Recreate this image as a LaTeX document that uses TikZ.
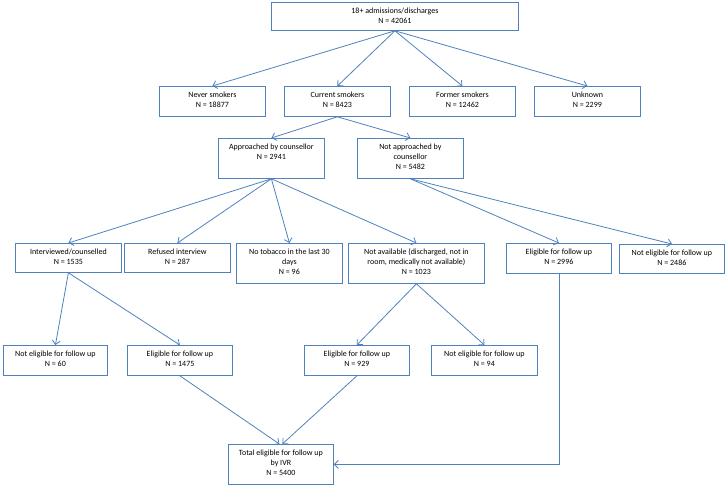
\documentclass[tikz,border=0pt]{standalone}
\usepackage{fontspec}
\setmainfont{Carlito}
\usetikzlibrary{arrows.meta}
\definecolor{lineblue}{RGB}{79,129,189}
\tikzset{
  box/.style={draw=lineblue, line width=0.8pt, rectangle, inner sep=0pt, anchor=north west},
  txt/.style={anchor=north, inner sep=0pt, align=center, text=black, font=\fontsize{8}{10}\selectfont},
  conn/.style={draw=lineblue, line width=0.8pt, -{Straight Barb[length=4pt,width=8pt]}},
}
\newcommand{\flowbox}[6]{%
  \node[box, minimum width=#4, minimum height=#5] (#1) at (#2,#3) {};
  \node[txt] (#1-t) at ([yshift=-5.5pt]#1.north) {#6};
}
\begin{document}
\begin{tikzpicture}[x=1pt,y=-1pt]
\useasboundingbox (0,0) rectangle (727,486);
\flowbox{top}{271}{2}{247}{28}{18+ admissions/discharges\\N = 42061}
\flowbox{never}{159}{86}{106}{30}{Never smokers\\N = 18877}
\flowbox{current}{284}{86}{106}{30}{Current smokers\\N = 8423}
\flowbox{former}{409}{86}{106}{30}{Former smokers\\N = 12462}
\flowbox{unknown}{534}{86}{106}{30}{Unknown\\N = 2299}
\flowbox{appr}{218}{138}{106}{40}{Approached by counsellor\\N = 2941}
\flowbox{notappr}{357}{138}{106}{40}{Not approached by\\counsellor\\N = 5482}
\flowbox{interv}{15}{243}{106}{29}{Interviewed/counselled\\N = 1535}
\flowbox{refused}{124}{243}{106}{29}{Refused interview\\N = 287}
\flowbox{notob}{236}{243}{106}{40}{No tobacco in the last 30\\days\\N = 96}
\flowbox{notavail}{348}{243}{136}{40}{Not available (discharged, not in\\room, medically not available)\\N = 1023}
\flowbox{elig2996}{506}{243}{105}{30}{Eligible for follow up\\N = 2996}
\flowbox{ne2486}{619}{244}{105}{29}{Not eligible for follow up\\N = 2486}
\flowbox{ne60}{3}{345}{104}{30}{Not eligible for follow up\\N = 60}
\flowbox{e1475}{127}{345}{105}{30}{Eligible for follow up\\N = 1475}
\flowbox{e929}{304}{345}{105}{30}{Eligible for follow up\\N = 929}
\flowbox{ne94}{431}{345}{106}{30}{Not eligible for follow up\\N = 94}
\flowbox{total}{228}{444}{105}{40}{Total eligible for follow up\\by IVR\\N = 5400}
\foreach \t in {never,current,former,unknown}
  \draw[conn] (top.south) -- (\t.north);
\draw[conn] (current.south) -- (appr.north);
\draw[conn] (current.south) -- (notappr.north);
\foreach \t in {interv,refused,notob,notavail}
  \draw[conn] (appr.south) -- (\t.north);
\draw[conn] (notappr.south) -- (elig2996.north);
\draw[conn] (notappr.south) -- (ne2486.north);
\draw[conn] (interv.south) -- (ne60.north);
\draw[conn] (interv.south) -- (e1475.north);
\draw[conn] (notavail.south) -- (e929.north);
\draw[conn] (notavail.south) -- (ne94.north);
\draw[conn] (e1475.south) -- ([xshift=-1.5pt]total.north);
\draw[conn] (e929.south) -- ([xshift=1.5pt]total.north);
\draw[conn] (elig2996.south) |- (total.east);
\end{tikzpicture}
\end{document}
